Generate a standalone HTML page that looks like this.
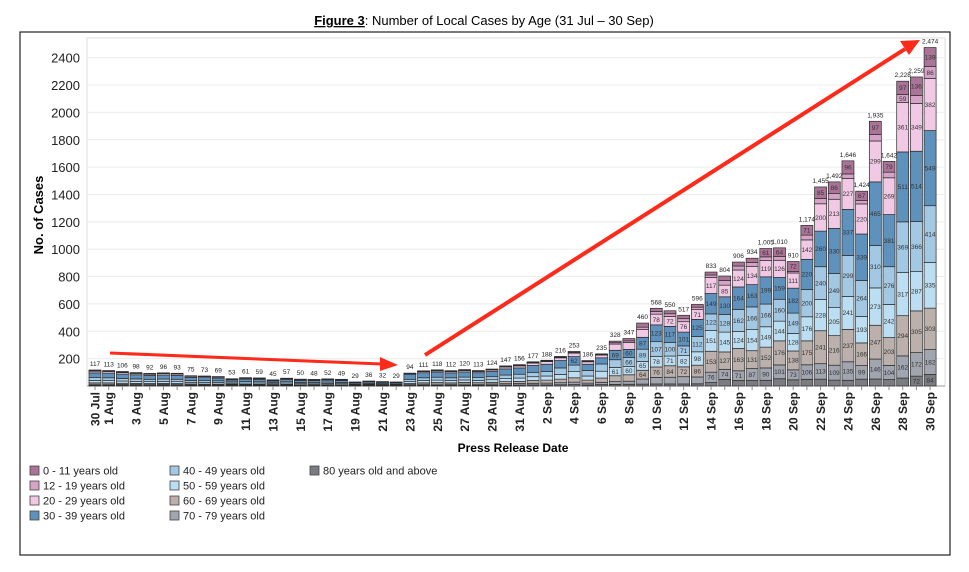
<!DOCTYPE html>
<html><head><meta charset="utf-8">
<style>
body{margin:0;background:#fff;font-family:"Liberation Sans",sans-serif;}
svg{display:block}
</style></head>
<body>
<svg id="chart" width="969" height="572" viewBox="0 0 969 572" xmlns="http://www.w3.org/2000/svg">
  <text x="484" y="25" text-anchor="middle" font-size="13" fill="#000"><tspan font-weight="bold" text-decoration="underline">Figure 3</tspan>: Number of Local Cases by Age (31 Jul – 30 Sep)</text>
  <rect x="20" y="32" width="930" height="523" fill="none" stroke="#222" stroke-width="1.2"/>
  <rect x="87" y="38" width="858" height="348" fill="none" stroke="#ddd" stroke-width="1"/>
  <g id="grid"></g>
  <g id="bars"></g>
  <g id="xaxis"></g>
  <text x="0" y="0" transform="translate(43,215) rotate(-90)" text-anchor="middle" font-size="13" font-weight="bold">No. of Cases</text>
  <text x="513" y="452" text-anchor="middle" font-size="12" font-weight="bold">Press Release Date</text>
  <g id="legend"></g>
  <g>
    <line x1="110" y1="353" x2="382" y2="364" stroke="#ff2a1a" stroke-width="3"/>
    <polygon points="398,365 380,357 380,371" fill="#ff2a1a"/>
    <line x1="425" y1="355" x2="905" y2="49" stroke="#ff2a1a" stroke-width="4"/>
    <polygon points="920,40 900,41 909,55" fill="#ff2a1a"/>
  </g>
</svg>
<script>
const ageGroups = ["80 years old and above","70 - 79 years old","60 - 69 years old","50 - 59 years old","40 - 49 years old","30 - 39 years old","20 - 29 years old","12 - 19 years old","0 - 11 years old"];
const groupColors = ["#7b7c82","#a1a5b0","#bbb0ab","#bcdef2","#a2c8e4","#5f91bd","#f1c9e5","#d6a3c7","#aa7397"];
const a80 = [5,5,4,4,4,4,4,3,3,3,3,3,3,2,3,2,2,2,2,1,2,1,1,4,5,5,5,5,5,6,7,7,8,8,9,10,8,10,12,13,14,15,15,15,16,25,48,40,40,42,53,45,49,50,43,42,50,51,47,58,72,84];
const a70 = [8,8,7,7,6,7,6,5,5,5,4,4,4,3,4,3,3,4,3,2,2,2,2,6,8,9,8,9,8,9,10,11,12,13,15,18,13,17,20,22,37,48,49,53,50,76,74,71,87,90,101,73,106,113,109,135,99,146,104,162,172,182];
const a60 = [10,10,9,8,8,8,8,7,6,6,5,5,5,4,5,4,4,4,4,3,3,3,3,8,10,11,10,12,11,12,15,16,20,22,26,32,22,31,43,47,64,76,84,72,86,153,127,163,131,152,176,138,175,241,216,237,166,247,203,294,305,303];
const a50 = [18,17,16,15,14,15,14,12,11,11,8,9,9,7,9,8,7,8,8,4,5,5,4,14,17,18,17,18,17,19,22,24,28,30,35,45,30,50,61,60,65,78,71,82,98,151,145,124,154,149,144,128,176,228,205,241,193,273,242,317,287,335];
const a40 = [20,20,19,18,17,17,17,14,14,13,10,11,10,8,10,9,9,10,9,5,7,6,5,17,20,21,20,21,20,22,26,28,32,34,47,48,41,53,56,66,89,107,100,71,112,122,128,162,166,166,160,149,200,240,249,299,264,310,276,369,366,414];
const a30 = [35,34,32,30,28,29,28,22,22,20,15,18,17,13,17,15,14,15,14,9,11,10,9,37,37,38,36,38,36,38,45,46,50,52,54,62,45,45,69,60,87,123,117,101,125,149,130,164,163,199,159,182,220,260,330,337,339,465,381,511,514,549];
const a20 = [12,12,11,10,9,10,10,8,8,7,5,6,6,5,6,5,5,5,5,3,4,3,3,5,8,9,9,10,9,11,14,15,17,19,20,25,18,20,45,50,56,78,72,76,71,117,85,124,134,119,126,111,142,200,213,227,220,299,269,361,349,382];
const a12 = [4,3,3,3,3,3,3,2,2,2,1,2,2,1,1,2,2,2,2,1,1,1,1,1,3,3,3,3,3,3,4,4,5,5,5,6,4,4,10,12,18,20,20,22,18,18,35,29,27,27,27,12,35,38,41,32,26,47,41,59,58,86];
const a0 = [5,4,5,3,3,3,3,2,2,2,2,3,3,2,2,2,2,2,2,1,1,1,1,2,3,4,4,4,4,4,4,5,5,5,5,7,5,5,12,17,30,23,22,25,20,22,32,29,32,61,64,72,71,85,86,96,67,97,79,97,136,139];
const series = [a80,a70,a60,a50,a40,a30,a20,a12,a0];
const yTicks = [200,400,600,800,1000,1200,1400,1600,1800,2000,2200,2400];
const xTickIdx = [0,1,3,5,7,9,11,13,15,17,19,21,23,25,27,29,31,33,35,37,39,41,43,45,47,49,51,53,55,57,59,61];
const xTickLabels = ["30 Jul","1 Aug","3 Aug","5 Aug","7 Aug","9 Aug","11 Aug","13 Aug","15 Aug","17 Aug","19 Aug","21 Aug","23 Aug","25 Aug","27 Aug","29 Aug","31 Aug","2 Sep","4 Sep","6 Sep","8 Sep","10 Sep","12 Sep","14 Sep","16 Sep","18 Sep","20 Sep","22 Sep","24 Sep","26 Sep","28 Sep","30 Sep"];

const NS="http://www.w3.org/2000/svg";
const y0=386, kY=0.1368, x0=95, step=13.69, bw=12;
function yScale(v){return y0 - v*kY;}
function xScale(i){return x0 + i*step;}
function mk(tag,attrs,parent){const e=document.createElementNS(NS,tag);for(const k in attrs)e.setAttribute(k,attrs[k]);parent.appendChild(e);return e;}

const grid=document.getElementById('grid');
yTicks.forEach(t=>{
  const l=mk('line',{x1:87,x2:945,y1:yScale(t),y2:yScale(t),stroke:'#ececec','stroke-width':1},grid);
  
  
  const tx=mk('text',{x:80,y:yScale(t)+5,'text-anchor':'end','font-size':13,fill:'#222'},grid);
  tx.textContent=t;
  
  
});
const ax=mk('line',{x1:87,x2:945,y1:y0,y2:y0,stroke:'#999','stroke-width':1},grid);



const bars=document.getElementById('bars');
const n=a80.length;
for(let i=0;i<n;i++){
  let cum=0;
  const g=mk('g',{},bars);
  
  
  series.forEach((s,k)=>{
    const v=s[i];
    const yTop=yScale(cum+v), yBot=yScale(cum);
    const r=mk('rect',{x:xScale(i)-bw/2,y:yTop,width:bw,height:Math.max(0,yBot-yTop),fill:groupColors[k],stroke:'#2a2a2a','stroke-width':0.7},g);
    
    
    if(v*kY>8){
      const t=mk('text',{x:xScale(i),y:(yTop+yBot)/2+2.3,'text-anchor':'middle','font-size':6.5,fill:'#333'},g);
      t.textContent=v;
      
      
    }
    cum+=v;
  });
  const tl=mk('text',{x:xScale(i),y:yScale(cum)-4,'text-anchor':'middle','font-size':6.5,fill:'#222'},g);
  tl.textContent=cum.toLocaleString('en-US');
  
  
}

const xa=document.getElementById('xaxis');
for(let i=0;i<n;i++){
  const tk=mk('line',{x1:xScale(i),x2:xScale(i),y1:y0,y2:y0+4,stroke:'#888','stroke-width':1},xa);
  
  
}
xTickIdx.forEach((idx,j)=>{
  const t=mk('text',{x:0,y:0,transform:`translate(${xScale(idx)+4.5},392) rotate(-90)`,'text-anchor':'end','font-size':12,'font-weight':'bold',fill:'#222'},xa);
  t.textContent=xTickLabels[j];
  
  
});

const leg=document.getElementById('legend');
const legOrder=[8,7,6,5,4,3,2,1,0];
legOrder.forEach((k,j)=>{
  const col=Math.floor(j/4), row=j%4;
  const lx=30+col*140, ly=466+row*15;
  const g=mk('g',{},leg);
  
  
  const sq=mk('rect',{x:lx,y:ly,width:9,height:9,fill:groupColors[k],stroke:'#444','stroke-width':0.8},g);
  
  
  const t=mk('text',{x:lx+13,y:ly+8.5,'font-size':11,fill:'#222'},g);
  t.textContent=ageGroups[k];
  
  
});
</script>
</body></html>
